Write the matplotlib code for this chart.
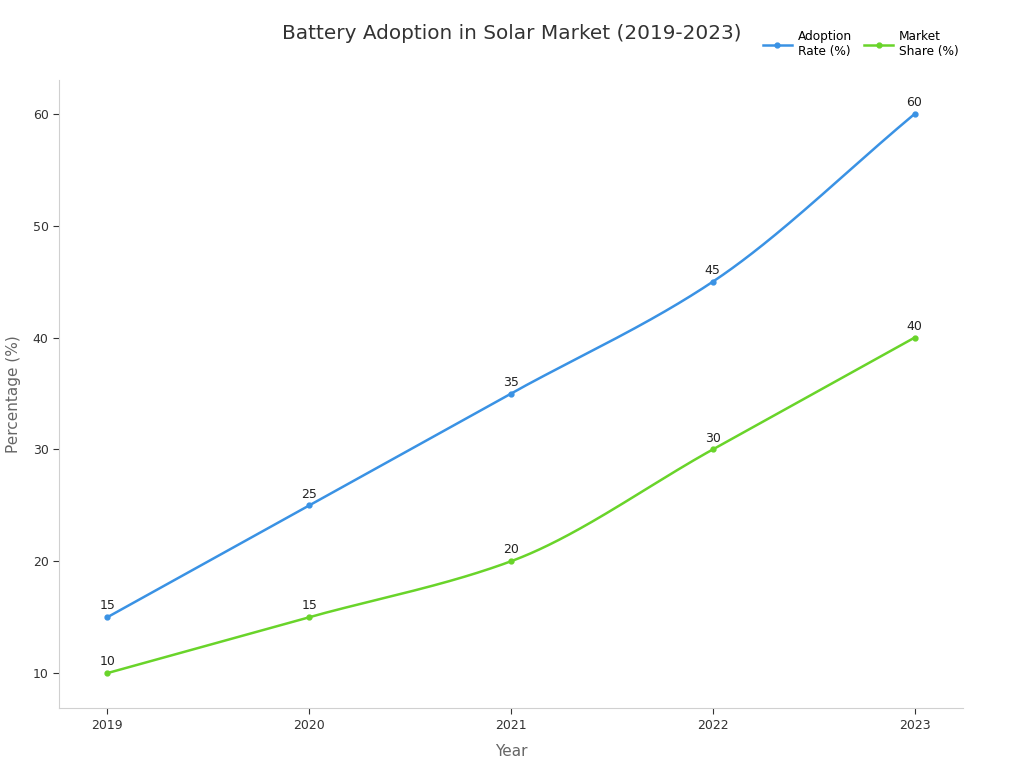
import numpy as np
import matplotlib.pyplot as plt

years = [2019, 2020, 2021, 2022, 2023]
adoption_rate = [15, 25, 35, 45, 60]
market_share = [10, 15, 20, 30, 40]

blue = '#3a92e4'
green = '#69d42a'


def smooth(x, y, n=200):
    # monotone cubic (Fritsch-Carlson) between the points
    x = np.asarray(x, float)
    y = np.asarray(y, float)
    h = np.diff(x)
    d = np.diff(y) / h
    m = np.zeros_like(y)
    m[0], m[-1] = d[0], d[-1]
    for i in range(1, len(y) - 1):
        if d[i - 1] * d[i] > 0:
            w1 = 2 * h[i] + h[i - 1]
            w2 = h[i] + 2 * h[i - 1]
            m[i] = (w1 + w2) / (w1 / d[i - 1] + w2 / d[i])
    xs, ys = [], []
    for i in range(len(x) - 1):
        t = np.linspace(0, 1, n)
        h00 = 2 * t**3 - 3 * t**2 + 1
        h10 = t**3 - 2 * t**2 + t
        h01 = -2 * t**3 + 3 * t**2
        h11 = t**3 - t**2
        xs.append(x[i] + t * h[i])
        ys.append(h00 * y[i] + h10 * h[i] * m[i] + h01 * y[i + 1] + h11 * h[i] * m[i + 1])
    return np.concatenate(xs), np.concatenate(ys)


fig = plt.figure(figsize=(10.24, 7.68), dpi=100)
ax = fig.add_axes([0.0576, 0.078, 0.8828, 0.8178])

for vals, color, label in [(adoption_rate, blue, 'Adoption\nRate (%)'),
                           (market_share, green, 'Market\nShare (%)')]:
    sx, sy = smooth(years, vals)
    ax.plot(sx, sy, color=color, linewidth=1.8)
    ax.plot(years, vals, 'o', color=color, markersize=3.5)
    ax.plot([], [], color=color, marker='o', markersize=3.5, linewidth=1.8, label=label)
    for x, v in zip(years, vals):
        ax.annotate(str(v), (x, v), xytext=(0, 3.5), textcoords='offset points',
                    ha='center', va='bottom', fontsize=9, color='#222222')

ax.set_xlim(2018.76, 2023.24)
ax.set_ylim(6.87, 63.04)
ax.set_xticks(years)
ax.set_yticks([10, 20, 30, 40, 50, 60])
ax.tick_params(labelsize=9, colors='#333333', length=4, width=0.8)
for s in ['top', 'right']:
    ax.spines[s].set_visible(False)
for s in ['left', 'bottom']:
    ax.spines[s].set_color('#d0d0d0')
ax.set_xlabel('Year', fontsize=11, color='#666666', labelpad=9)
ax.set_ylabel('Percentage (%)', fontsize=11, color='#666666', labelpad=8)

fig.text(0.5, 0.957, 'Battery Adoption in Solar Market (2019-2023)', ha='center', va='center',
         fontsize=14.4, color='#333333')
fig.legend(loc='upper right', bbox_to_anchor=(0.947, 0.975), ncol=2, frameon=False,
           fontsize=8.7, handlelength=2.4, columnspacing=1.0, handletextpad=0.5,
           labelspacing=0.6)

fig.savefig('out.png', dpi=100)
